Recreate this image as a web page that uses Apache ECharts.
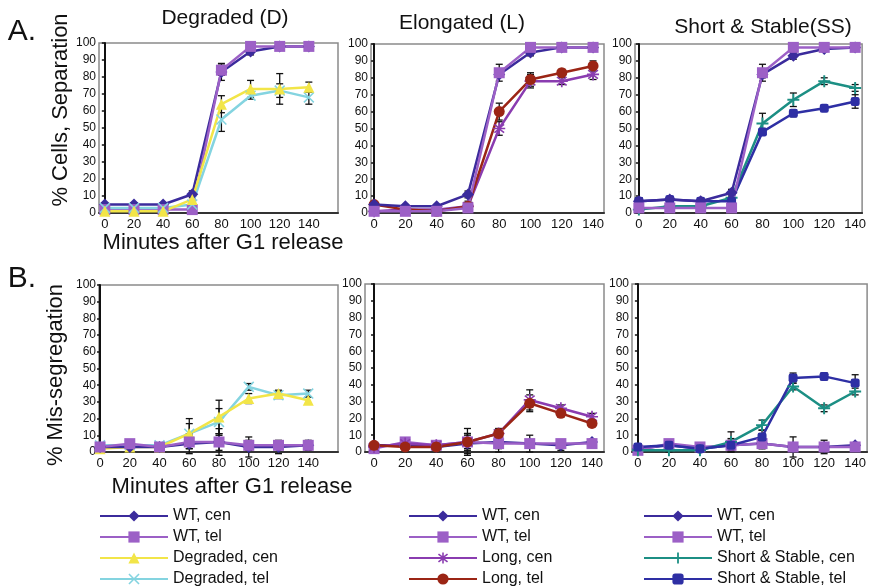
<!DOCTYPE html>
<html>
<head>
<meta charset="utf-8">
<script src="https://cdn.jsdelivr.net/npm/echarts@6/dist/echarts.min.js"></script>
<style>
    html, body {margin: 0; padding: 0; background: #fff;}
    #chart {width: 869px; height: 586px;}
</style>
</head>
<body>
<div id="chart"></div>
<script>
const minutes = [0, 20, 40, 60, 80, 100, 120, 140];
const yTicks = [0, 10, 20, 30, 40, 50, 60, 70, 80, 90, 100];

// A. % cells with separation
const sepDWtCen = [5, 5, 5, 11, 83, 95, 98, 98];
const sepDWtTel = [2, 2, 2, 2, 84, 98, 98, 98];
const sepDDegCen = [1, 1, 1, 8, 64, 73, 73, 74];
const sepDDegTel = [3, 3, 3, 5, 55, 69, 72, 68];
const sepLWtCen = [5, 4, 4, 11, 82, 95, 98, 98];
const sepLWtTel = [1, 1, 1, 3, 83, 98, 98, 98];
const sepLLongCen = [1, 2, 2, 4, 50, 78, 78, 82];
const sepLLongTel = [5, 2, 1, 4, 60, 79, 83, 87];
const sepSWtCen = [7, 8, 7, 12, 82, 93, 97, 98];
const sepSWtTel = [3, 3, 3, 3, 83, 98, 98, 98];
const sepSSsCen = [2, 4, 4, 9, 53, 67, 78, 74];
const sepSSsTel = [7, 8, 7, 7, 48, 59, 62, 66];

// B. % mis-segregation
const misDWtCen = [3, 3, 3, 5, 6, 3, 3, 4];
const misDWtTel = [3, 5, 3, 6, 6, 4, 4, 4];
const misDDegCen = [2, 3, 3, 11, 21, 32, 35, 31];
const misDDegTel = [4, 4, 4, 11, 18, 39, 34, 35];
const misLWtCen = [4, 4, 3, 5, 6, 5, 4, 6];
const misLWtTel = [2, 6, 4, 6, 5, 5, 5, 5];
const misLLongCen = [3, 5, 4, 6, 11, 31, 26, 21];
const misLLongTel = [4, 3, 3, 6, 11, 29, 23, 17];
const misSWtCen = [2, 4, 2, 4, 5, 3, 3, 4];
const misSWtTel = [1, 5, 3, 4, 5, 3, 3, 3];
const misSSsCen = [1, 1, 1, 6, 16, 39, 26, 36];
const misSSsTel = [3, 4, 2, 4, 9, 44, 45, 41];

// error bar half-widths
const sepDWtCenErr = [1, 1, 1, 2, 5, 2, 1, 1];
const sepDWtTelErr = [0, 0, 0, 0, 3, 1, 1, 1];
const sepDDegCenErr = [1, 1, 1, 2, 5, 5, 9, 3];
const sepDDegTelErr = [1, 1, 1, 2, 7, 2, 4, 4];
const sepLWtCenErr = [1, 1, 1, 2, 1, 2, 1, 1];
const sepLWtTelErr = [1, 1, 1, 1, 5, 1, 1, 1];
const sepLLongCenErr = [1, 1, 1, 2, 4, 4, 2, 3];
const sepLLongTelErr = [1, 1, 1, 3, 5, 4, 2, 3];
const sepSWtCenErr = [2, 1, 1, 2, 2, 2, 1, 1];
const sepSWtTelErr = [1, 1, 1, 1, 5, 1, 1, 1];
const sepSSsCenErr = [1, 1, 1, 2, 6, 4, 2, 2];
const sepSSsTelErr = [2, 1, 1, 2, 2, 2, 1, 4];
const misDWtCenErr = [1, 1, 1, 6, 5, 6, 4, 3];
const misDWtTelErr = [1, 1, 1, 4, 8, 3, 2, 2];
const misDDegCenErr = [1, 1, 1, 9, 10, 3, 2, 2];
const misDDegTelErr = [1, 1, 1, 6, 8, 2, 2, 2];
const misLWtCenErr = [1, 1, 1, 6, 6, 2, 3, 1];
const misLWtTelErr = [1, 1, 1, 5, 3, 5, 2, 2];
const misLLongCenErr = [1, 1, 1, 8, 3, 6, 2, 2];
const misLLongTelErr = [1, 1, 1, 4, 2, 5, 2, 2];
const misSWtCenErr = [1, 1, 1, 4, 3, 2, 2, 1];
const misSWtTelErr = [1, 1, 1, 3, 3, 6, 4, 2];
const misSSsCenErr = [1, 1, 1, 6, 3, 2, 2, 2];
const misSSsTelErr = [1, 1, 1, 2, 4, 3, 2, 5];

const font = 'Liberation Sans, Arial, Helvetica, sans-serif';
const narrow = 'Liberation Sans Narrow, Liberation Sans, Arial, sans-serif';

const xMark = 'path://M1,0 L5,4 L9,0 L10,1 L6,5 L10,9 L9,10 L5,6 L1,10 L0,9 L4,5 L0,1 Z';
const plusMark = 'path://M4.2,0 H5.8 V4.2 H10 V5.8 H5.8 V10 H4.2 V5.8 H0 V4.2 H4.2 Z';
const starMark = 'path://M4.3,0 H5.7 V3.3 L8.6,1 L9.5,2 L6.4,4.3 H10 V5.7 H6.4 L9.5,8 L8.6,9 L5.7,6.7 V10 H4.3 V6.7 L1.4,9 L0.5,8 L3.6,5.7 H0 V4.3 H3.6 L0.5,2 L1.4,1 L4.3,3.3 Z';

const kinds = {
    wtCen: {name: 'WT, cen', color: '#3b2b9c', symbol: 'diamond', size: 12},
    wtTel: {name: 'WT, tel', color: '#9c60c6', symbol: 'rect', size: 11},
    degCen: {name: 'Degraded, cen', color: '#f2e548', symbol: 'triangle', size: 11},
    degTel: {name: 'Degraded, tel', color: '#84d4e0', symbol: xMark, size: 11},
    longCen: {name: 'Long, cen', color: '#8a3cb0', symbol: starMark, size: 12},
    longTel: {name: 'Long, tel', color: '#9b2515', symbol: 'circle', size: 11},
    ssCen: {name: 'Short & Stable, cen', color: '#1c8f84', symbol: plusMark, size: 12},
    ssTel: {name: 'Short & Stable, tel', color: '#2e2fa4', symbol: 'roundRect', size: 9},
};

const panels = [
    {grid: {left: 99, top: 43, width: 239, height: 170}, x: [-4, 160], lines: [
        ['wtCen', sepDWtCen, sepDWtCenErr], ['wtTel', sepDWtTel, sepDWtTelErr],
        ['degTel', sepDDegTel, sepDDegTelErr], ['degCen', sepDDegCen, sepDDegCenErr]]},
    {grid: {left: 371, top: 44, width: 233, height: 169}, x: [-2, 147], lines: [
        ['longCen', sepLLongCen, sepLLongCenErr], ['longTel', sepLLongTel, sepLLongTelErr],
        ['wtCen', sepLWtCen, sepLWtCenErr], ['wtTel', sepLWtTel, sepLWtTelErr]]},
    {grid: {left: 635, top: 44, width: 234, height: 169}, x: [-2.5, 144.5], lines: [
        ['ssCen', sepSSsCen, sepSSsCenErr], ['ssTel', sepSSsTel, sepSSsTelErr],
        ['wtCen', sepSWtCen, sepSWtCenErr], ['wtTel', sepSWtTel, sepSWtTelErr]]},
    {grid: {left: 99, top: 285, width: 239, height: 167}, x: [-0.7, 160], lines: [
        ['degTel', misDDegTel, misDDegTelErr], ['degCen', misDDegCen, misDDegCenErr],
        ['wtCen', misDWtCen, misDWtCenErr], ['wtTel', misDWtTel, misDWtTelErr]]},
    {grid: {left: 365, top: 284, width: 239, height: 168}, x: [-5.8, 147.7], lines: [
        ['wtCen', misLWtCen, misLWtCenErr], ['wtTel', misLWtTel, misLWtTelErr],
        ['longCen', misLLongCen, misLLongCenErr], ['longTel', misLLongTel, misLLongTelErr]]},
    {grid: {left: 632, top: 284, width: 237, height: 168}, x: [-3.8, 147.7], lines: [
        ['wtCen', misSWtCen, misSWtCenErr], ['wtTel', misSWtTel, misSWtTelErr],
        ['ssCen', misSSsCen, misSSsCenErr], ['ssTel', misSSsTel, misSSsTelErr]]},
];

function errorItem(params, api) {
    const x = api.value(0);
    const top = api.coord([x, api.value(2)]);
    const bot = api.coord([x, api.value(1)]);
    const w = 3.5;
    const style = {stroke: '#111', lineWidth: 1.3};
    return {
        type: 'group',
        children: [
            {type: 'line', shape: {x1: top[0], y1: top[1], x2: bot[0], y2: bot[1]}, style},
            {type: 'line', shape: {x1: top[0] - w, y1: top[1], x2: top[0] + w, y2: top[1]}, style},
            {type: 'line', shape: {x1: bot[0] - w, y1: bot[1], x2: bot[0] + w, y2: bot[1]}, style},
        ],
    };
}

const grids = [];
const xAxes = [];
const yAxes = [];
const series = [];
panels.forEach((p, i) => {
    grids.push({...p.grid, show: true, borderColor: '#8a8a8a', borderWidth: 1.5, containLabel: false});
    xAxes.push({
        type: 'value',
        gridIndex: i,
        min: p.x[0],
        max: p.x[1],
        axisLine: {onZero: false, lineStyle: {color: '#333', width: 2}},
        axisTick: {show: false},
        splitLine: {show: false},
        axisLabel: {
            customValues: minutes,
            color: '#111',
            fontFamily: font,
            fontSize: 13,
            margin: 5,
        },
    });
    yAxes.push({
        type: 'value',
        gridIndex: i,
        min: 0,
        max: 100,
        interval: 10,
        axisLine: {show: true, lineStyle: {color: '#111', width: 2}},
        axisTick: {show: true, length: 3, lineStyle: {color: '#111', width: 1.5}},
        splitLine: {show: false},
        axisLabel: {
            color: '#111',
            fontFamily: narrow,
            fontSize: 12,
            margin: 3,
            customValues: yTicks,
        },
    });
    for (const [kind, vals, errs] of p.lines) {
        series.push({
            type: 'custom',
            xAxisIndex: i,
            yAxisIndex: i,
            z: 1,
            silent: true,
            renderItem: errorItem,
            data: minutes.map((m, j) => [m, vals[j] - errs[j], vals[j] + errs[j]]),
        });
    }
    for (const [kind, vals] of p.lines) {
        const k = kinds[kind];
        series.push({
            type: 'line',
            name: k.name,
            xAxisIndex: i,
            yAxisIndex: i,
            z: 3,
            symbol: k.symbol,
            symbolSize: k.size,
            showSymbol: true,
            animation: false,
            color: k.color,
            lineStyle: {width: 2.5, color: k.color},
            itemStyle: {color: k.color},
            data: minutes.map((m, j) => [m, vals[j]]),
        });
    }
});

function makeLegend(left, names) {
    return {
        orient: 'vertical',
        left,
        top: 508,
        height: 80,
        itemWidth: 68,
        itemHeight: 14,
        itemGap: 5,
        padding: 0,
        selectedMode: false,
        textStyle: {fontFamily: font, fontSize: 16, color: '#111'},
        data: names,
    };
}

const bigText = (text, x, y, size, extra) => ({
    type: 'text',
    x,
    y,
    ...extra,
    style: {
        text,
        fontFamily: font,
        fontSize: size,
        fill: '#111',
        textAlign: 'center',
        textVerticalAlign: 'middle',
    },
});

const chart = echarts.init(document.getElementById('chart'), null, {renderer: 'canvas'});
chart.setOption({
    animation: false,
    backgroundColor: '#fff',
    grid: grids,
    xAxis: xAxes,
    yAxis: yAxes,
    series,
    legend: [
        makeLegend(99, ['WT, cen', 'WT, tel', 'Degraded, cen', 'Degraded, tel']),
        makeLegend(408, ['WT, cen', 'WT, tel', 'Long, cen', 'Long, tel']),
        makeLegend(643, ['WT, cen', 'WT, tel', 'Short & Stable, cen', 'Short & Stable, tel']),
    ],
    graphic: [
        bigText('A.', 22, 32, 30),
        bigText('B.', 22, 279, 30),
        bigText('Degraded (D)', 225, 18, 21),
        bigText('Elongated (L)', 462, 23, 21),
        bigText('Short & Stable(SS)', 763, 27, 21),
        bigText('% Cells, Separation', 61, 110, 22, {rotation: Math.PI / 2}),
        bigText('% Mis-segregation', 56, 375, 22, {rotation: Math.PI / 2}),
        bigText('Minutes after G1 release', 223, 243, 22),
        bigText('Minutes after G1 release', 232, 487, 22),
    ],
});
</script>
</body>
</html>
